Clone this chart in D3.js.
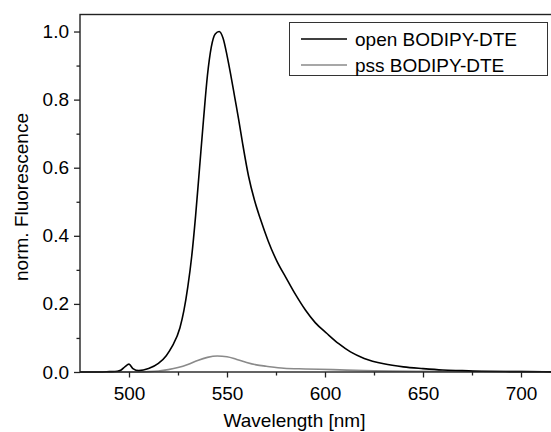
<!DOCTYPE html>
<html>
<head>
<meta charset="utf-8">
<script src="https://cdn.jsdelivr.net/npm/d3@7"></script>
<style>
    body { margin: 0; background: #fff; }
    svg { display: block; overflow: hidden; }
    text { font-family: Arial, "Liberation Sans", sans-serif; fill: #000; }
</style>
</head>
<body>
<svg id="chart"></svg>
<script>
// Spectra (wavelength in nm, normalised intensity)
const openWl  = [475, 485, 490, 494, 496, 498, 500, 502, 505, 510, 515, 519, 522, 526, 528, 530, 532, 534, 536, 538, 540, 542, 544, 546, 548, 550, 552, 554, 556, 558, 561, 564, 567, 571, 575.5, 580, 585, 590, 595, 601, 607, 613, 620, 630, 640, 650, 660, 670, 680, 700, 725];
const openInt = [0, 0, 0.001, 0.002, 0.006, 0.016, 0.023, 0.01, 0.004, 0.01, 0.025, 0.048, 0.075, 0.13, 0.18, 0.25, 0.34, 0.46, 0.6, 0.74, 0.87, 0.955, 0.993, 1.0, 0.98, 0.93, 0.87, 0.805, 0.74, 0.67, 0.575, 0.505, 0.45, 0.385, 0.325, 0.278, 0.227, 0.182, 0.145, 0.113, 0.083, 0.059, 0.04, 0.024, 0.015, 0.01, 0.006, 0.004, 0.002, 0.001, 0];

const pssWl  = [475, 505, 510, 515, 520, 525, 530, 535, 540, 545, 550, 555, 560, 565, 570, 579, 590, 604, 620, 650, 700, 725];
const pssInt = [0, 0, 0.001, 0.003, 0.007, 0.013, 0.022, 0.034, 0.043, 0.047, 0.045, 0.037, 0.028, 0.021, 0.017, 0.011, 0.009, 0.007, 0.004, 0.002, 0.001, 0];

const seriesNames = ['open BODIPY-DTE', 'pss BODIPY-DTE'];
const seriesColors = ['#000000', '#8a8a8a'];

const xMajor = [500, 550, 600, 650, 700];
const xMinor = [525, 575, 625, 675];
const yMajor = [0, 0.2, 0.4, 0.6, 0.8, 1.0];
const yMinor = [0.1, 0.3, 0.5, 0.7, 0.9];

const W = 551, H = 432;
const plot = {left: 80, top: 14.5, bottom: 372};

const svg = d3.select('#chart')
    .attr('width', W)
    .attr('height', H);

// Scales (plot continues past the right edge of the picture)
const x = d3.scaleLinear()
    .domain([475, 725])
    .range([plot.left, plot.left + 250 * 1.96]);

const y = d3.scaleLinear()
    .domain([0, 1.05])
    .range([plot.bottom, plot.top]);

const fontSize = 19;

// Curves
const line = d3.line()
    .x(d => x(d[0]))
    .y(d => y(d[1]))
    .curve(d3.curveMonotoneX);

const series = [d3.zip(pssWl, pssInt), d3.zip(openWl, openInt)];
const seriesColor = [seriesColors[1], seriesColors[0]];

svg.selectAll('.curve')
    .data(series)
    .enter()
    .append('path')
    .attr('class', 'curve')
    .attr('d', line)
    .attr('fill', 'none')
    .attr('stroke', (d, i) => seriesColor[i])
    .attr('stroke-width', 1.6);

// X axis (ticks point outward)
svg.append('g')
    .attr('transform', `translate(0,${plot.bottom})`)
    .call(d3.axisBottom(x).tickValues(xMajor).tickSize(5.5).tickPadding(9).tickFormat(d3.format('d')));
svg.append('g')
    .attr('transform', `translate(0,${plot.bottom})`)
    .call(d3.axisBottom(x).tickValues(xMinor).tickSize(3.5).tickFormat(''));

// Y axis
svg.append('g')
    .attr('transform', `translate(${plot.left},0)`)
    .call(d3.axisLeft(y).tickValues(yMajor).tickSize(6).tickPadding(5).tickFormat(d3.format('.1f')));
svg.append('g')
    .attr('transform', `translate(${plot.left},0)`)
    .call(d3.axisLeft(y).tickValues(yMinor).tickSize(3.5).tickFormat(''));

svg.selectAll('.domain').remove();
svg.selectAll('.tick line').attr('stroke', '#222').attr('stroke-width', 1.3);
svg.selectAll('.tick text')
    .style('font-size', fontSize + 'px')
    .style('font-family', 'Arial, "Liberation Sans", sans-serif')
    .attr('fill', '#000');

// Frame
svg.append('rect')
    .attr('x', x.range()[0])
    .attr('y', plot.top)
    .attr('width', x.range()[1] - x.range()[0])
    .attr('height', plot.bottom - plot.top)
    .attr('fill', 'none')
    .attr('stroke', '#222')
    .attr('stroke-width', 1.4);

// Axis titles
svg.append('text')
    .attr('x', 294.5)
    .attr('y', 427)
    .attr('text-anchor', 'middle')
    .style('font-size', fontSize + 'px')
    .text('Wavelength [nm]');

svg.append('text')
    .attr('transform', 'translate(28,197) rotate(-90)')
    .attr('text-anchor', 'middle')
    .style('font-size', fontSize + 'px')
    .text('norm. Fluorescence');

// Legend
const legend = svg.append('g');
legend.append('rect')
    .attr('x', 289.5)
    .attr('y', 22.5)
    .attr('width', 258)
    .attr('height', 53)
    .attr('fill', '#fff')
    .attr('stroke', '#333')
    .attr('stroke-width', 1);

seriesNames.forEach((name, i) => {
    const ly = 39 + i * 26;
    legend.append('line')
        .attr('x1', 301).attr('x2', 347)
        .attr('y1', ly).attr('y2', ly)
        .attr('stroke', seriesColors[i])
        .attr('stroke-width', 1.6);
    legend.append('text')
        .attr('x', 355)
        .attr('y', ly + 7)
        .style('font-size', fontSize + 'px')
        .text(name);
});
</script>
</body>
</html>
